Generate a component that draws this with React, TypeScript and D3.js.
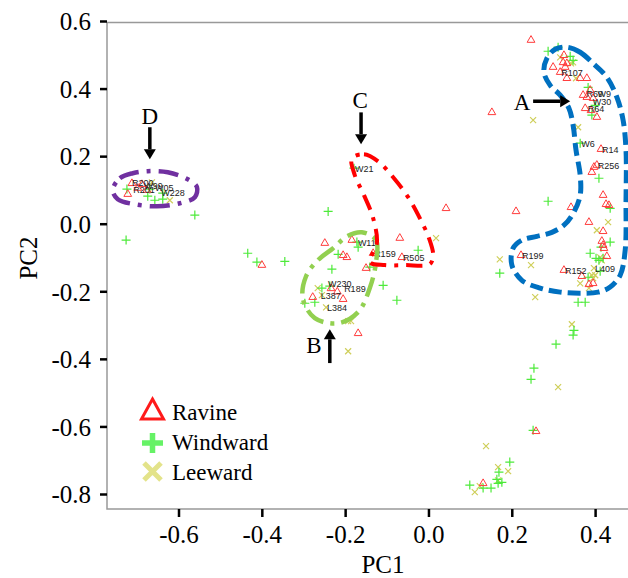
import React from "react";
import * as d3 from "d3";

// PC1 / PC2 scores
const ravine: [number, number][] = [
  [0.245, 0.545], [0.324, 0.5], [0.322, 0.479], [0.331, 0.476], [0.327, 0.465], [0.298, 0.465],
  [0.315, 0.45], [0.331, 0.432], [0.363, 0.432], [0.379, 0.432], [0.387, 0.397], [0.37, 0.382],
  [0.379, 0.376], [0.394, 0.373], [0.375, 0.343], [0.389, 0.337], [0.403, 0.317], [0.413, 0.222],
  [0.403, 0.175], [0.396, 0.169], [0.391, 0.154], [0.418, 0.086], [0.425, 0.059], [0.432, 0.056],
  [0.341, 0.05], [0.209, 0.038], [0.384, 0.006], [0.418, -0.021], [0.415, -0.05], [0.418, -0.062],
  [0.42, -0.071], [0.427, -0.095], [0.221, -0.092], [0.324, -0.136], [0.367, -0.154], [0.384, -0.178],
  [0.394, -0.175], [0.257, -0.613], [0.13, -0.767], [0.151, 0.331], [0.041, 0.047], [-0.07, -0.041],
  [-0.065, -0.098], [-0.134, -0.086], [-0.151, -0.13], [-0.25, -0.056], [-0.185, -0.047],
  [-0.206, -0.092], [-0.197, -0.098], [-0.279, -0.216], [-0.206, -0.222], [-0.17, -0.323],
  [-0.401, -0.121], [-0.723, 0.089], [-0.713, 0.121], [-0.699, 0.107], [-0.677, 0.101],
  [-0.689, 0.118], [-0.235, -0.19], [-0.22, -0.2],
];

const windward: [number, number][] = [
  [0.286, 0.512], [0.31, 0.524], [0.339, 0.497], [0.346, 0.485], [0.382, 0.405], [0.391, 0.323],
  [0.399, 0.352], [0.363, 0.24], [0.408, 0.136], [0.286, 0.068], [0.435, 0.047], [0.435, -0.053],
  [0.413, -0.068], [0.387, -0.086], [0.408, -0.107], [0.418, -0.101], [0.401, -0.101], [0.382, -0.157],
  [0.411, -0.139], [0.17, -0.145], [0.358, -0.231], [0.375, -0.231], [0.348, -0.314], [0.346, -0.328],
  [0.305, -0.355], [0.252, -0.426], [0.245, -0.459], [0.25, -0.61], [0.194, -0.704], [0.168, -0.734],
  [0.163, -0.755], [0.175, -0.764], [0.166, -0.767], [0.098, -0.772], [0.13, -0.781], [0.149, -0.781],
  [-0.18, 0.166], [-0.242, 0.038], [-0.026, -0.077], [-0.173, -0.053], [-0.17, -0.068], [-0.218, -0.089],
  [-0.233, -0.133], [-0.142, -0.127], [-0.11, -0.181], [-0.077, -0.225], [-0.257, -0.189],
  [-0.298, -0.234], [-0.274, -0.231], [-0.435, -0.086], [-0.413, -0.112], [-0.346, -0.11],
  [-0.727, -0.047], [-0.562, 0.027], [-0.67, 0.104], [-0.639, 0.092], [-0.658, 0.071],
  [-0.639, 0.074], [-0.675, 0.083], [-0.725, 0.104], [-0.238, -0.183],
];

const leeward: [number, number][] = [
  [0.315, 0.494], [0.346, 0.479], [0.341, 0.476], [0.353, 0.432], [0.25, 0.308], [0.358, 0.287],
  [0.43, 0.006], [0.403, -0.018], [0.411, -0.098], [0.415, -0.107], [0.245, -0.121], [0.17, -0.104],
  [0.396, -0.13], [0.391, -0.151], [0.399, -0.151], [0.394, -0.16], [0.363, -0.175], [0.384, -0.189],
  [0.255, -0.216], [0.343, -0.296], [0.31, -0.482], [0.137, -0.657], [0.166, -0.719], [0.19, -0.731],
  [0.166, -0.758], [0.122, -0.775], [0.11, -0.793], [0.017, -0.041], [-0.267, -0.189],
  [-0.247, -0.246], [-0.194, -0.287], [-0.187, -0.287], [-0.194, -0.376], [-0.622, 0.071],
  [-0.665, 0.124], [-0.257, -0.21],
];

const pointLabels: [string, number, number][] = [
  ["R107", 0.315, 0.45], ["R69", 0.376, 0.387], ["W9", 0.402, 0.387], ["W30", 0.391, 0.364],
  ["R64", 0.379, 0.343], ["W6", 0.363, 0.24], ["R14", 0.413, 0.222], ["R256", 0.403, 0.175],
  ["R199", 0.221, -0.092], ["R152", 0.324, -0.136], ["L409", 0.396, -0.13], ["W21", -0.18, 0.166],
  ["W11", -0.173, -0.053], ["R159", -0.134, -0.086], ["R505", -0.065, -0.098],
  ["W230", -0.245, -0.175], ["R189", -0.206, -0.189], ["L387", -0.262, -0.21], ["L384", -0.247, -0.246],
  ["R200", -0.715, 0.122], ["R201", -0.712, 0.104], ["W99", -0.686, 0.116], ["W05", -0.66, 0.11],
  ["W228", -0.645, 0.094],
];

const xTicks = [-0.6, -0.4, -0.2, 0.0, 0.2, 0.4];
const yTicks = [0.6, 0.4, 0.2, 0.0, -0.2, -0.4, -0.6, -0.8];

// group outlines (A-D)
const outlineA: [number, number][] = [
  [0.331, 0.524], [0.363, 0.509], [0.394, 0.476], [0.427, 0.435], [0.451, 0.376], [0.466, 0.308],
  [0.473, 0.219], [0.473, 0.071], [0.471, -0.077], [0.459, -0.151], [0.435, -0.186], [0.406, -0.201],
  [0.363, -0.204], [0.315, -0.201], [0.267, -0.189], [0.223, -0.166], [0.199, -0.121], [0.202, -0.071],
  [0.223, -0.047], [0.259, -0.036], [0.295, -0.024], [0.324, -0.003], [0.348, 0.036], [0.363, 0.086],
  [0.363, 0.145], [0.353, 0.219], [0.346, 0.293], [0.336, 0.343], [0.315, 0.382], [0.291, 0.411],
  [0.276, 0.45], [0.283, 0.491], [0.303, 0.518],
];
const outlineB: [number, number][] = [
  [-0.161, -0.024], [-0.127, -0.047], [-0.127, -0.112], [-0.142, -0.189], [-0.17, -0.26],
  [-0.218, -0.293], [-0.274, -0.278], [-0.303, -0.219], [-0.295, -0.154], [-0.267, -0.107],
  [-0.23, -0.071], [-0.197, -0.036],
];
const outlineC: [number, number][] = [
  [-0.185, 0.195], [-0.156, 0.207], [-0.122, 0.186], [-0.084, 0.136], [-0.05, 0.08], [-0.022, 0.018],
  [0.0, -0.041], [0.01, -0.092], [0.002, -0.118], [-0.058, -0.121], [-0.106, -0.121], [-0.142, -0.112],
  [-0.125, -0.056], [-0.134, 0.018], [-0.156, 0.086], [-0.178, 0.145],
];
const outlineD: [number, number][] = [
  [-0.759, 0.101], [-0.742, 0.136], [-0.711, 0.151], [-0.675, 0.157], [-0.627, 0.154], [-0.579, 0.133],
  [-0.557, 0.11], [-0.562, 0.08], [-0.598, 0.062], [-0.653, 0.053], [-0.706, 0.059], [-0.747, 0.074],
];

// arrow: label, tail x, tail y, tip x, tip y
const arrows: [string, number, number, number, number][] = [
  ["A", 0.25, 0.364, 0.339, 0.364],
  ["B", -0.238, -0.411, -0.238, -0.311],
  ["C", -0.163, 0.331, -0.163, 0.237],
  ["D", -0.67, 0.287, -0.67, 0.192],
];
const arrowLabelOffset: [number, number][] = [[-11, 9], [-16, -10], [-1, -4], [0, -3]];

const seriesNames = ["Ravine", "Windward", "Leeward"];

const serif = "'Liberation Serif', 'Times New Roman', serif";
const fmt = (v: number) => (Math.abs(v) < 1e-9 ? "0.0" : v.toFixed(1));

const App = () => {
  const x = d3.scaleLinear().domain([-0.6, 0.4]).range([179, 595.6]);
  const y = d3.scaleLinear().domain([-0.8, 0.6]).range([494.5, 21.5]);
  const left = 107, top = 22.5, bottom = 509;

  const outline = d3
    .line<[number, number]>()
    .x(d => x(d[0]))
    .y(d => y(d[1]))
    .curve(d3.curveCatmullRomClosed.alpha(0.5));
  const tri = d3.symbol().type(d3.symbolTriangle).size(26)();

  return (
    <div style={{position: "absolute", left: 0, top: 0}}>
      <svg width={628} height={578} style={{display: "block"}}>
        <rect width={628} height={578} fill="white"/>
        {/* frame */}
        <path d={`M640,${top}H${left}V${bottom}H640`} fill="none" stroke="#999" strokeWidth={1.5}/>
        {yTicks.map(t => (
          <g key={"y" + t}>
            <line x1={100} x2={left} y1={y(t)} y2={y(t)} stroke="black" strokeWidth={2.5}/>
            <text x={91} y={y(t)} dy="0.35em" textAnchor="end" fontFamily={serif} fontSize={25}>
              {fmt(t)}
            </text>
          </g>
        ))}
        {xTicks.map(t => (
          <g key={"x" + t}>
            <line x1={x(t)} x2={x(t)} y1={bottom} y2={bottom + 8} stroke="black" strokeWidth={2.5}/>
            <text x={x(t)} y={543} textAnchor="middle" fontFamily={serif} fontSize={25}>
              {fmt(t)}
            </text>
          </g>
        ))}
        <text x={383} y={573} textAnchor="middle" fontFamily={serif} fontSize={25}>PC1</text>
        <text transform="translate(37,258) rotate(-90)" textAnchor="middle" fontFamily={serif} fontSize={25}>
          PC2
        </text>

        {/* points */}
        {leeward.map((d, i) => (
          <path key={"l" + i} transform={`translate(${x(d[0])},${y(d[1])})`}
                d="M-3,-3L3,3M-3,3L3,-3" stroke="#cfcf5a" strokeWidth={1.2} fill="none"/>
        ))}
        {windward.map((d, i) => (
          <path key={"w" + i} transform={`translate(${x(d[0])},${y(d[1])})`}
                d="M-4.5,0H4.5M0,-4.5V4.5" stroke="#4dea3a" strokeWidth={1.2} fill="none"/>
        ))}
        {ravine.map((d, i) => (
          <path key={"r" + i} transform={`translate(${x(d[0])},${y(d[1])})`}
                d={tri || ""} stroke="#ff3c3c" strokeWidth={1} fill="none"/>
        ))}
        {pointLabels.map(([t, a, b], i) => (
          <text key={"t" + i} x={x(a) + 1} y={y(b) + 3.5} fontFamily="'Liberation Sans', Arial, sans-serif"
                fontSize={9} fill="#222">{t}</text>
        ))}

        {/* group outlines */}
        <path d={outline(outlineA) || ""} fill="none" stroke="#0070c0" strokeWidth={5} strokeDasharray="13,6"/>
        <path d={outline(outlineB) || ""} fill="none" stroke="#92d050" strokeWidth={4.5} strokeDasharray="20,7,4,7"/>
        <path d={outline(outlineC) || ""} fill="none" stroke="#ff0000" strokeWidth={4} strokeDasharray="16,8,4,8"/>
        <path d={outline(outlineD) || ""} fill="none" stroke="#7030a0" strokeWidth={4.5} strokeDasharray="20,8,4,8"/>

        {/* arrows */}
        {arrows.map(([lab, x0, y0, x1, y1], i) => {
          const ax = x(x0), ay = y(y0), bx = x(x1), by = y(y1);
          const len = Math.hypot(bx - ax, by - ay);
          const ux = (bx - ax) / len, uy = (by - ay) / len;
          const hl = 10, hw = 6;
          const sx = bx - ux * hl, sy = by - uy * hl;
          return (
            <g key={lab}>
              <line x1={ax} y1={ay} x2={sx} y2={sy} stroke="black" strokeWidth={3.5}/>
              <path d={`M${bx},${by}L${sx - uy * hw},${sy + ux * hw}L${sx + uy * hw},${sy - ux * hw}Z`} fill="black"/>
              <text x={ax + arrowLabelOffset[i][0]} y={ay + arrowLabelOffset[i][1]} textAnchor="middle"
                    fontFamily={serif} fontSize={23}>{lab}</text>
            </g>
          );
        })}

        {/* legend */}
        <g>
          <path d="M152.5,399L163.5,419H141.5Z" fill="none" stroke="#ff1a1a" strokeWidth={3}/>
          <path d="M142,443H163M152.5,433V453" stroke="#66f266" strokeWidth={5.5}/>
          <path d="M144,463L161,480M144,480L161,463" stroke="#e3e38a" strokeWidth={5}/>
          {seriesNames.map((s, i) => (
            <text key={s} x={172} y={420 + i * 30} fontFamily={serif} fontSize={23}>{s}</text>
          ))}
        </g>
      </svg>
    </div>
  );
};

export default App;
